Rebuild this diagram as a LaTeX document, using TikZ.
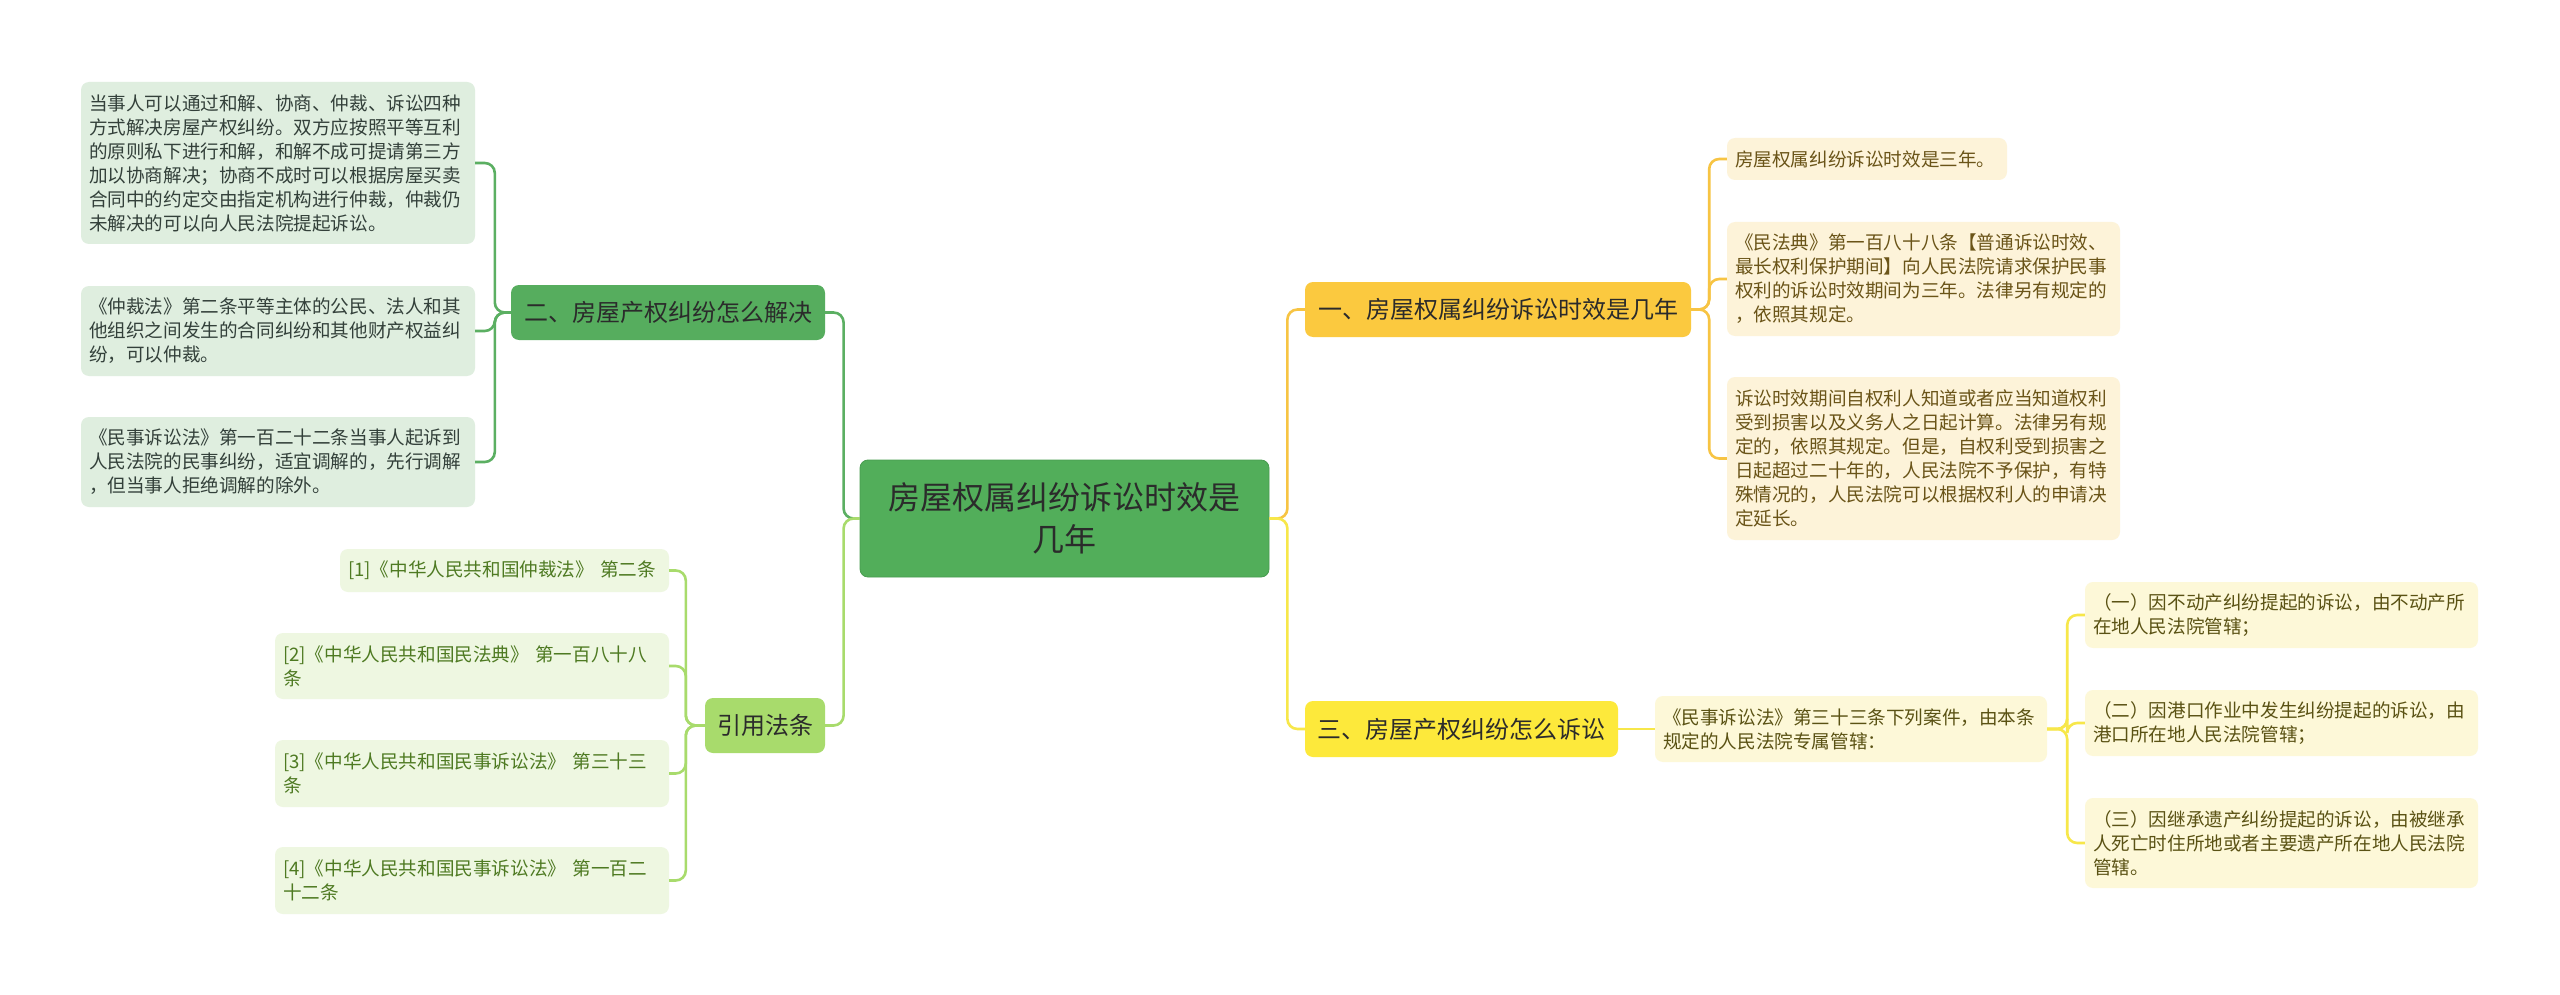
\documentclass[tikz,border=0pt]{standalone}
\usepackage{fontspec}
\newfontfamily\cjk{Noto Sans CJK SC}
\definecolor{cenfill}{HTML}{52AE5A}
\definecolor{cenline}{HTML}{479C4F}
\definecolor{gfill}{HTML}{56AD5E}
\definecolor{lgfill}{HTML}{A8DB6C}
\definecolor{ofill}{HTML}{FBC93F}
\definecolor{yfill}{HTML}{FDE93B}
\definecolor{afill}{HTML}{DFEEDF}
\definecolor{cfill}{HTML}{EEF7E1}
\definecolor{bfill}{HTML}{FDF3D9}
\definecolor{efill}{HTML}{FDF8D8}
\definecolor{txtdark}{HTML}{2B2B2B}
\definecolor{atext}{HTML}{33403A}
\definecolor{ctext}{HTML}{4E7A22}
\definecolor{btext}{HTML}{6A5418}
\definecolor{etext}{HTML}{5A5214}
\definecolor{gline}{HTML}{5BAF62}
\definecolor{lgline}{HTML}{A8DB6C}
\definecolor{oline}{HTML}{F7C443}
\definecolor{yline}{HTML}{F7E74A}
\tikzset{
  box/.style={rounded corners=8pt, inner xsep=8pt, inner ysep=3pt},
  cenbox/.style={box, fill=cenfill, draw=cenline, line width=0.8pt, align=center, text=txtdark,
    font=\cjk\fontsize{32}{42}\selectfont},
  brbox/.style={box, align=center, text=txtdark, font=\cjk\fontsize{24}{30}\selectfont},
  leafbox/.style={box, align=left, font=\cjk\fontsize{18.6}{24}\selectfont},
  aleaf/.style={leafbox, fill=afill, text=atext},
  cleaf/.style={leafbox, fill=cfill, text=ctext},
  bleaf/.style={leafbox, fill=bfill, text=btext},
  eleaf/.style={leafbox, fill=efill, text=etext},
  conn/.style={line width=2.6pt, rounded corners=10pt},
}
\begin{document}
\begin{tikzpicture}[x=1pt,y=-1pt]
\useasboundingbox[fill=white] (0,0) rectangle (2560,995);

% central
\node[cenbox, minimum width=409pt, minimum height=117pt] (c) at (1064.5,518.5)
  {房屋权属纠纷诉讼时效是\\几年};

% branches
\node[brbox, fill=gfill, minimum width=314pt, minimum height=55pt] (l1) at (668,312.5)
  {二、房屋产权纠纷怎么解决};
\node[brbox, fill=lgfill, minimum width=120pt, minimum height=55pt] (l2) at (765,725.5)
  {引用法条};
\node[brbox, fill=ofill, minimum width=386pt, minimum height=55pt] (r1) at (1498,309.5)
  {一、房屋权属纠纷诉讼时效是几年};
\node[brbox, fill=yfill, minimum width=313pt, minimum height=56pt] (r2) at (1461.5,729)
  {三、房屋产权纠纷怎么诉讼};

% left leaves
\node[aleaf, minimum width=394pt, minimum height=162pt, text width=378pt] (a1) at (278,163)
  {当事人可以通过和解、协商、仲裁、诉讼四种\\方式解决房屋产权纠纷。双方应按照平等互利\\的原则私下进行和解，和解不成可提请第三方\\加以协商解决；协商不成时可以根据房屋买卖\\合同中的约定交由指定机构进行仲裁，仲裁仍\\未解决的可以向人民法院提起诉讼。};
\node[aleaf, minimum width=394pt, minimum height=90pt, text width=378pt] (a2) at (278,331)
  {《仲裁法》第二条平等主体的公民、法人和其\\他组织之间发生的合同纠纷和其他财产权益纠\\纷，可以仲裁。};
\node[aleaf, minimum width=394pt, minimum height=90pt, text width=378pt] (a3) at (278,462)
  {《民事诉讼法》第一百二十二条当事人起诉到\\人民法院的民事纠纷，适宜调解的，先行调解\\，但当事人拒绝调解的除外。};

% citation leaves
\node[cleaf, minimum width=329pt, minimum height=43pt, text width=313pt] (k1) at (504.5,570.5)
  {[1]《中华人民共和国仲裁法》 第二条};
\node[cleaf, minimum width=394pt, minimum height=66pt, text width=378pt] (k2) at (472,666)
  {[2]《中华人民共和国民法典》 第一百八十八\\条};
\node[cleaf, minimum width=394pt, minimum height=67pt, text width=378pt] (k3) at (472,773.5)
  {[3]《中华人民共和国民事诉讼法》 第三十三\\条};
\node[cleaf, minimum width=394pt, minimum height=67pt, text width=378pt] (k4) at (472,880.5)
  {[4]《中华人民共和国民事诉讼法》 第一百二\\十二条};

% right leaves of branch one
\node[bleaf, minimum width=280pt, minimum height=42pt, text width=264pt] (b1) at (1867,159)
  {房屋权属纠纷诉讼时效是三年。};
\node[bleaf, minimum width=393pt, minimum height=114pt, text width=377pt] (b2) at (1923.5,279)
  {《民法典》第一百八十八条【普通诉讼时效、\\最长权利保护期间】向人民法院请求保护民事\\权利的诉讼时效期间为三年。法律另有规定的\\，依照其规定。};
\node[bleaf, minimum width=393pt, minimum height=163pt, text width=377pt] (b3) at (1923.5,458.5)
  {诉讼时效期间自权利人知道或者应当知道权利\\受到损害以及义务人之日起计算。法律另有规\\定的，依照其规定。但是，自权利受到损害之\\日起超过二十年的，人民法院不予保护，有特\\殊情况的，人民法院可以根据权利人的申请决\\定延长。};

% branch three
\node[eleaf, minimum width=392pt, minimum height=66pt, text width=376pt] (d) at (1851,729)
  {《民事诉讼法》第三十三条下列案件，由本条\\规定的人民法院专属管辖：};
\node[eleaf, minimum width=393pt, minimum height=66pt, text width=377pt] (e1) at (2281.5,615)
  {（一）因不动产纠纷提起的诉讼，由不动产所\\在地人民法院管辖；};
\node[eleaf, minimum width=393pt, minimum height=66pt, text width=377pt] (e2) at (2281.5,723)
  {（二）因港口作业中发生纠纷提起的诉讼，由\\港口所在地人民法院管辖；};
\node[eleaf, minimum width=393pt, minimum height=90pt, text width=377pt] (e3) at (2281.5,843)
  {（三）因继承遗产纠纷提起的诉讼，由被继承\\人死亡时住所地或者主要遗产所在地人民法院\\管辖。};

% connectors: central to branches
\draw[conn, gline] (c.west) -- ++(-16,0) |- (l1.east);
\draw[conn, lgline] (c.west) -- ++(-16,0) |- (l2.east);
\draw[conn, oline] (c.east) -- ++(18,0) |- (r1.west);
\draw[conn, yline] (c.east) -- ++(18,0) |- (r2.west);

% branch two to leaves
\draw[conn, gline] (l1.west) -- ++(-16,0) |- (a1.east);
\draw[conn, gline] (l1.west) -- ++(-16,0) |- (a2.east);
\draw[conn, gline] (l1.west) -- ++(-16,0) |- (a3.east);

% citations
\draw[conn, lgline] (l2.west) -- ++(-19,0) |- (k1.east);
\draw[conn, lgline] (l2.west) -- ++(-19,0) |- (k2.east);
\draw[conn, lgline] (l2.west) -- ++(-19,0) |- (k3.east);
\draw[conn, lgline] (l2.west) -- ++(-19,0) |- (k4.east);

% branch one to leaves
\draw[conn, oline] (r1.east) -- ++(18,0) |- (b1.west);
\draw[conn, oline] (r1.east) -- ++(18,0) |- (b2.west);
\draw[conn, oline] (r1.east) -- ++(18,0) |- (b3.west);

% branch three
\draw[conn, yline] (r2.east) -- (d.west);
\draw[conn, yline] (d.east) -- ++(20,0) |- (e1.west);
\draw[conn, yline] (d.east) -- ++(20,0) |- (e2.west);
\draw[conn, yline] (d.east) -- ++(20,0) |- (e3.west);
\end{tikzpicture}
\end{document}
